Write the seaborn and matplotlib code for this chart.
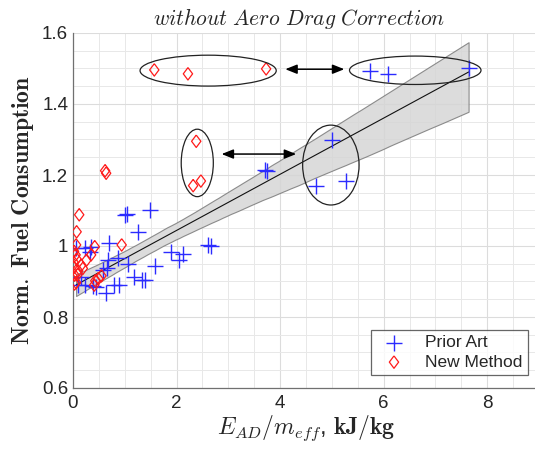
import numpy as np
import pandas as pd
import matplotlib
matplotlib.use("Agg")
import matplotlib.pyplot as plt
from matplotlib.patches import Ellipse
from matplotlib.ticker import MultipleLocator, FixedLocator
import seaborn as sns

# ---- data ----
prior_x = [7.64, 5.74, 6.09, 5.00, 4.70, 5.28, 3.70, 3.75,
           1.49, 1.00, 1.05, 1.26, 2.60, 2.66, 1.89, 2.12, 2.04, 1.58, 1.07,
           1.17, 1.33, 1.39, 0.89, 0.70, 0.875, 0.68, 0.65, 0.64, 0.58,
           0.45, 0.23, 0.06, 0.23, 0.32, 0.35, 0.16, 0.10, 0.80, 0.39]
prior_y = [1.500, 1.493, 1.484, 1.299, 1.170, 1.183, 1.213, 1.210,
           1.100, 1.088, 1.090, 1.039, 1.002, 1.000, 0.982, 0.977, 0.960, 0.945, 0.948,
           0.914, 0.904, 0.904, 0.890, 1.008, 0.965, 0.961, 0.937, 0.867, 0.932,
           0.885, 0.890, 0.993, 0.993, 0.984, 0.998, 0.913, 0.890, 0.890, 0.887]

new_x = [1.57, 2.22, 3.73, 2.38, 2.32, 2.47, 0.62, 0.64,
         0.12, 0.07, 0.06, 0.02, 0.05, 0.07, 0.16, 0.02, 0.03, 0.09, 0.03, 0.06,
         0.35, 0.42, 0.26, 0.19, 0.55, 0.49, 0.43, 0.41, 0.94, 0.01, 0.10]
new_y = [1.496, 1.485, 1.499, 1.295, 1.170, 1.183, 1.212, 1.205,
         1.088, 1.040, 1.003, 0.985, 0.975, 0.963, 0.946, 0.940, 0.918, 0.920, 0.893, 0.897,
         0.975, 0.998, 0.960, 0.937, 0.916, 0.908, 0.902, 0.890, 1.003, 0.955, 0.930]

series_labels = ["Prior Art", "New Method"]
title_text = r"$\mathit{without\ Aero\ Drag\ Correction}$"
xlabel_text = r"$E_{AD}/m_{eff}$, $\mathbf{kJ/kg}$"
ylabel_text = r"$\mathbf{Norm.\ Fuel\ Consumption}$"
y_ticks = [0.6, 0.8, 1.0, 1.2, 1.4, 1.6]
y_ticklabels = ["0.6", "0.8", "1", "1.2", "1.4", "1.6"]
x_ticks = [0, 2, 4, 6, 8]

# annotation ellipses: (cx, cy, width, height)
ellipses = [(2.61, 1.494, 2.63, 0.087),
            (6.61, 1.495, 2.54, 0.080),
            (2.40, 1.234, 0.62, 0.190),
            (4.98, 1.228, 1.09, 0.225)]
arrows = [((4.10, 1.498), (5.24, 1.498)),
          ((2.87, 1.259), (4.31, 1.259))]

prior = pd.DataFrame({"x": prior_x, "y": prior_y})
new = pd.DataFrame({"x": new_x, "y": new_y})

sns.set_style("white")
plt.rcParams["font.family"] = ["Liberation Sans", "DejaVu Sans"]
plt.rcParams["mathtext.fontset"] = "cm"

fig = plt.figure(figsize=(5.35, 4.49), dpi=100)
ax = fig.add_axes([73 / 535, 61 / 449, 466 / 535, 355 / 449])

# regression fit with confidence band (prior art)
sns.regplot(data=prior, x="x", y="y", scatter=False, ci=95, seed=1,
            color="black", line_kws=dict(lw=0.8, color="#111111"), ax=ax)
band = ax.collections[-1]
band.set_facecolor("#d6d6d6")
band.set_alpha(0.85)
band.set_edgecolor("#7a7a7a")
band.set_linewidth(0.8)

diamond = [(0, 1), (0.75, 0), (0, -1), (-0.75, 0), (0, 1)]
sns.scatterplot(data=prior, x="x", y="y", marker="+", s=120, color="#2b2bff",
                linewidth=1.0, label=series_labels[0], ax=ax, zorder=3)
sns.scatterplot(data=new, x="x", y="y", marker=diamond, s=80,
                facecolors="none", edgecolor="#ff1a1a", linewidth=0.9,
                label=series_labels[1], ax=ax, zorder=3)

for cx, cy, w, h in ellipses:
    ax.add_patch(Ellipse((cx, cy), w, h, fill=False, ec="#222222", lw=0.9, zorder=4))
for (x0, y0), (x1, y1) in arrows:
    ax.annotate("", xy=(x0, y0), xytext=(x1, y1),
                arrowprops=dict(arrowstyle="<|-|>,head_length=0.7,head_width=0.28",
                                color="black", lw=1.1, shrinkA=0, shrinkB=0), zorder=5)

ax.set_xlim(0, 9)
ax.set_ylim(0.6, 1.6)
ax.xaxis.set_major_locator(FixedLocator(x_ticks))
ax.xaxis.set_minor_locator(MultipleLocator(0.5))
ax.yaxis.set_major_locator(FixedLocator(y_ticks))
ax.yaxis.set_minor_locator(MultipleLocator(0.05))
ax.set_yticklabels(y_ticklabels)
ax.tick_params(which="both", direction="in", length=4, width=0.8, color="#555555",
               labelsize=13.5, labelcolor="#262626")
ax.tick_params(axis="x", pad=5)
ax.grid(which="major", color="#dcdcdc", lw=0.8)
ax.grid(which="minor", color="#e8e8e8", lw=0.7)
ax.set_axisbelow(True)
for s in ["top", "right"]:
    ax.spines[s].set_visible(False)
for s in ["left", "bottom"]:
    ax.spines[s].set_color("#707070")
    ax.spines[s].set_linewidth(0.9)

ax.set_title(title_text, fontsize=15.5, pad=6, x=0.485)
ax.set_xlabel(xlabel_text, fontsize=17, labelpad=1)
ax.set_ylabel(ylabel_text, fontsize=17, labelpad=4)

leg = ax.legend(loc="lower right", bbox_to_anchor=(0.976, 0.037), borderaxespad=0,
                fontsize=12.5, frameon=True, fancybox=False, edgecolor="#404040",
                handletextpad=0.8, borderpad=0.3, labelspacing=0.25)
leg.get_frame().set_linewidth(0.9)

fig.savefig("out.png", dpi=100)
